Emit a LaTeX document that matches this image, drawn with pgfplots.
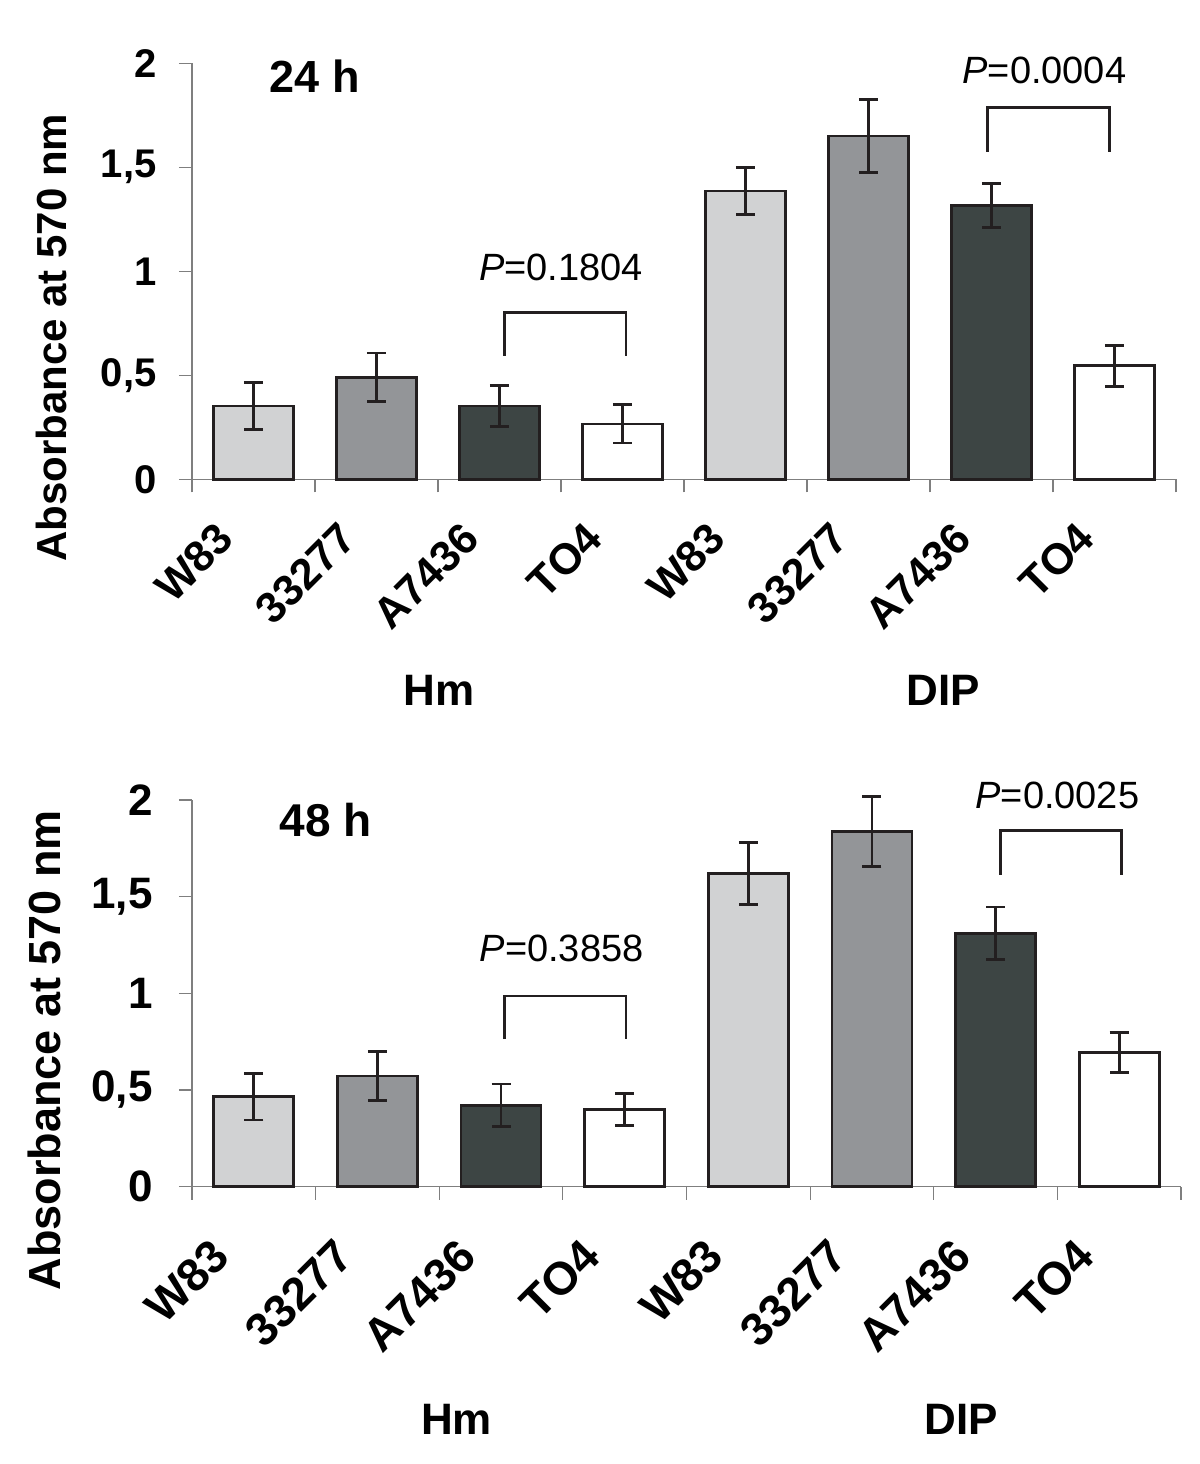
\documentclass[border=0pt]{standalone}
\usepackage{pgfplots}
\pgfplotsset{compat=1.18}
\usepackage{fontspec}
\setmainfont{Liberation Sans}
\definecolor{cLight}{HTML}{D1D2D3}
\definecolor{cMid}{HTML}{939598}
\definecolor{cDark}{HTML}{3D4544}
\definecolor{cEdge}{HTML}{231F20}
\definecolor{cAxis}{HTML}{7F7F7F}

\pgfplotsset{
  barchart/.style={
    scale only axis, clip=false,
    xmin=-0.5, xmax=7.5, ymin=0, ymax=2,
    axis x line=bottom, axis y line=left,
    axis line style={cAxis, line width=0.6pt, -},
    ybar, bar width=40pt,
    ytick={0,0.5,1,1.5,2}, yticklabels={0,{0,5},1,{1,5},2},
    xtick={0,...,7}, xticklabels={W83,33277,A7436,TO4,W83,33277,A7436,TO4},
    minor xtick={-0.5,0.5,...,7.5},
    tick align=outside, major tick length=6.5pt, minor tick length=6.5pt,
    major x tick style={draw=none},
    minor x tick style={cAxis, line width=0.6pt},
    ytick style={cAxis, line width=0.6pt},
  },
  bars/.style={fill=#1, draw=cEdge, line width=1.35pt, bar shift=0pt,
    error bars/.cd, y dir=both, y explicit,
    error bar style={line width=1.35pt, cEdge},
    error mark options={line width=1.35pt, cEdge, mark size=4.75pt, rotate=90}},
}

\begin{document}
\begin{tikzpicture}
\path[use as bounding box] (-96pt,-492.35pt) rectangle (504pt,239.65pt);

% ---------- 24 h ----------
\begin{axis}[barchart,
  at={(0pt,0pt)}, anchor=south west,
  width=492pt, height=208pt,
  yticklabel style={font=\fontsize{20}{20}\selectfont\bfseries, inner sep=0pt, anchor=east, xshift=-11pt},
  xticklabel style={font=\fontsize{21.6}{21.6}\selectfont\bfseries, inner sep=0pt, anchor=north east, xshift=-19.5pt, yshift=-13.5pt, rotate=45},
]
\addplot[bars=cLight] table[x=x, y=y, y error=e] {
x y e
0 0.352 0.112
4 1.386 0.112
};
\addplot[bars=cMid] table[x=x, y=y, y error=e] {
x y e
1 0.490 0.117
5 1.650 0.175
};
\addplot[bars=cDark] table[x=x, y=y, y error=e] {
x y e
2 0.352 0.098
6 1.317 0.105
};
\addplot[bars=white] table[x=x, y=y, y error=e] {
x y e
3 0.266 0.092
7 0.546 0.099
};
\draw[cEdge, line width=1.3pt] (axis cs:2.04,0.593) -- (axis cs:2.04,0.803) -- (axis cs:3.03,0.803) -- (axis cs:3.03,0.593);
\draw[cEdge, line width=1.3pt] (axis cs:5.97,1.575) -- (axis cs:5.97,1.787) -- (axis cs:6.96,1.787) -- (axis cs:6.96,1.575);
\node[font=\fontsize{19}{19}\selectfont, inner sep=0pt] at (axis cs:2.5,1.02) {\textit{P}=0.1804};
\node[font=\fontsize{19}{19}\selectfont, inner sep=0pt] at (axis cs:6.43,1.968) {\textit{P}=0.0004};
\node[font=\fontsize{22.5}{22.5}\selectfont\bfseries, inner sep=0pt] at (axis cs:0.5,1.94) {24 h};
\node[font=\fontsize{22}{22}\selectfont\bfseries, inner sep=0pt] at (axis cs:1.51,-1.013) {Hm};
\node[font=\fontsize{22}{22}\selectfont\bfseries, inner sep=0pt] at (axis cs:5.61,-1.013) {DIP};
\node[font=\fontsize{21}{21}\selectfont\bfseries, inner sep=0pt, rotate=90] at (rel axis cs:-0.1423,0.340) {Absorbance at 570 nm};
\end{axis}

% ---------- 48 h ----------
\begin{axis}[barchart,
  at={(0pt,-353.7pt)}, anchor=south west,
  width=494.5pt, height=193.35pt,
  yticklabel style={font=\fontsize{22}{22}\selectfont\bfseries, inner sep=0pt, anchor=east, xshift=-13pt},
  xticklabel style={font=\fontsize{23}{23}\selectfont\bfseries, inner sep=0pt, anchor=north east, xshift=-22.5pt, yshift=-18pt, rotate=45},
]
\addplot[bars=cLight] table[x=x, y=y, y error=e] {
x y e
0 0.466 0.121
4 1.621 0.160
};
\addplot[bars=cMid] table[x=x, y=y, y error=e] {
x y e
1 0.573 0.127
5 1.837 0.180
};
\addplot[bars=cDark] table[x=x, y=y, y error=e] {
x y e
2 0.421 0.111
6 1.311 0.136
};
\addplot[bars=white] table[x=x, y=y, y error=e] {
x y e
3 0.400 0.082
7 0.693 0.104
};
\draw[cEdge, line width=1.3pt] (axis cs:2.03,0.763) -- (axis cs:2.03,0.987) -- (axis cs:3.01,0.987) -- (axis cs:3.01,0.763);
\draw[cEdge, line width=1.3pt] (axis cs:6.04,1.613) -- (axis cs:6.04,1.842) -- (axis cs:7.02,1.842) -- (axis cs:7.02,1.613);
\node[font=\fontsize{19}{19}\selectfont, inner sep=0pt] at (axis cs:2.49,1.23) {\textit{P}=0.3858};
\node[font=\fontsize{19}{19}\selectfont, inner sep=0pt] at (axis cs:6.50,2.024) {\textit{P}=0.0025};
\node[font=\fontsize{23}{23}\selectfont\bfseries, inner sep=0pt] at (axis cs:0.58,1.897) {48 h};
\node[font=\fontsize{22}{22}\selectfont\bfseries, inner sep=0pt] at (axis cs:1.64,-1.204) {Hm};
\node[font=\fontsize{22}{22}\selectfont\bfseries, inner sep=0pt] at (axis cs:5.72,-1.204) {DIP};
\node[font=\fontsize{22.5}{22.5}\selectfont\bfseries, inner sep=0pt, rotate=90] at (rel axis cs:-0.1491,0.3535) {Absorbance at 570 nm};
\end{axis}
\end{tikzpicture}
\end{document}
